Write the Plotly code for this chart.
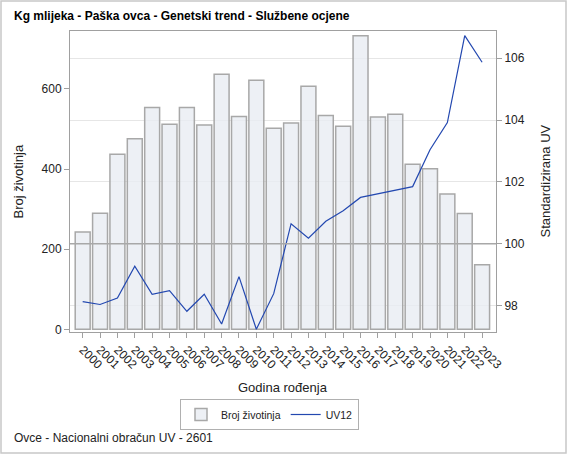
import plotly.graph_objects as go

# Podaci
godine = [str(g) for g in range(2000, 2024)]
broj_zivotinja = [243, 290, 437, 476, 554, 512, 554, 510, 637, 531, 622, 502,
                  515, 607, 534, 507, 733, 530, 537, 412, 401, 338, 289, 161]
uv12 = [98.13, 98.04, 98.25, 99.28, 98.37, 98.49, 97.82, 98.37, 97.41, 98.94,
        97.24, 98.39, 100.65, 100.18, 100.73, 101.07, 101.50, 101.62, 101.72,
        101.85, 103.04, 103.92, 106.73, 105.87]

W, H = 567, 454
L, R, T, B = 70, 71, 31, 122
pw, ph = W - L - R, H - T - B

def px_x(x):
    return (x - L) / pw

def px_y(y):
    return (H - B - y) / ph

font = "Liberation Sans, Arial, sans-serif"
gray = "#a0a0a0"

fig = go.Figure()

fig.add_trace(go.Bar(
    x=godine, y=broj_zivotinja, name="Broj životinja",
    marker=dict(color="rgba(232,236,242,0.8)", line=dict(color="#a8a8a8", width=1.5)),
    width=0.86,
))
fig.add_trace(go.Scatter(
    x=godine, y=uv12, name="UV12", yaxis="y2", mode="lines",
    line=dict(color="#2348b0", width=1.2),
))

fig.update_layout(
    width=W, height=H,
    margin=dict(l=L, r=R, t=T, b=B, autoexpand=False),
    paper_bgcolor="white", plot_bgcolor="white",
    font=dict(family=font, size=12, color="#222"),
    showlegend=True,
    legend=dict(
        orientation="h", x=px_x(180), y=px_y(399), xanchor="left", yanchor="top",
        bordercolor="#b0b0b0", borderwidth=1, font=dict(size=10.5),
        itemwidth=30, tracegroupgap=0,
    ),
    xaxis=dict(
        type="category", range=[-0.73, 23.8], automargin=False,
        tickangle=45, ticks="outside", ticklen=5, tickcolor=gray,
        showline=True, linecolor=gray, mirror=True, showgrid=False,
        tickfont=dict(size=12),
    ),
    yaxis=dict(
        range=[-6.7, 744.7], tickvals=[0, 200, 400, 600], automargin=False,
        ticks="outside", ticklen=5, tickcolor=gray,
        showline=True, linecolor=gray, mirror=True, showgrid=False,
        zeroline=False,
    ),
    yaxis2=dict(
        overlaying="y", side="right", range=[97.15, 106.88], automargin=False,
        tickvals=[98, 100, 102, 104, 106],
        ticks="outside", ticklen=5, tickcolor=gray,
        showline=True, linecolor=gray, showgrid=True, gridcolor="#e6e6e6",
        zeroline=False,
    ),
    bargap=0.14,
)

# referentna linija na 100
fig.add_shape(type="line", xref="paper", yref="y2", x0=0, x1=1, y0=100, y1=100,
              line=dict(color="#a8a8a8", width=1.5), layer="above")

# okvir oko cijele slike
fig.add_shape(type="rect", xref="paper", yref="paper",
              x0=px_x(1), x1=px_x(W - 1), y0=px_y(H - 1), y1=px_y(1),
              line=dict(color="#c8c8c8", width=1.5))

annotations = [
    dict(text="<b>Kg mlijeka - Paška ovca - Genetski trend - Službene ocjene</b>",
         x=px_x(12), y=px_y(16), xanchor="left", yanchor="middle", font=dict(size=12, color="#000")),
    dict(text="Broj životinja", x=px_x(18), y=0.5, textangle=-90,
         xanchor="center", yanchor="middle", font=dict(size=13)),
    dict(text="Standardizirana UV", x=px_x(545), y=0.5, textangle=-90,
         xanchor="center", yanchor="middle", font=dict(size=13)),
    dict(text="Godina rođenja", x=px_x(283), y=px_y(387),
         xanchor="center", yanchor="middle", font=dict(size=13)),
    dict(text="Ovce - Nacionalni obračun UV - 2601", x=px_x(12), y=px_y(438),
         xanchor="left", yanchor="middle", font=dict(size=12)),
]
for a in annotations:
    fig.add_annotation(xref="paper", yref="paper", showarrow=False, **a)

fig.write_html(
    "out.html",
    config={"displayModeBar": False},
    post_script="document.body.style.margin='0';document.body.style.overflow='hidden';",
)
